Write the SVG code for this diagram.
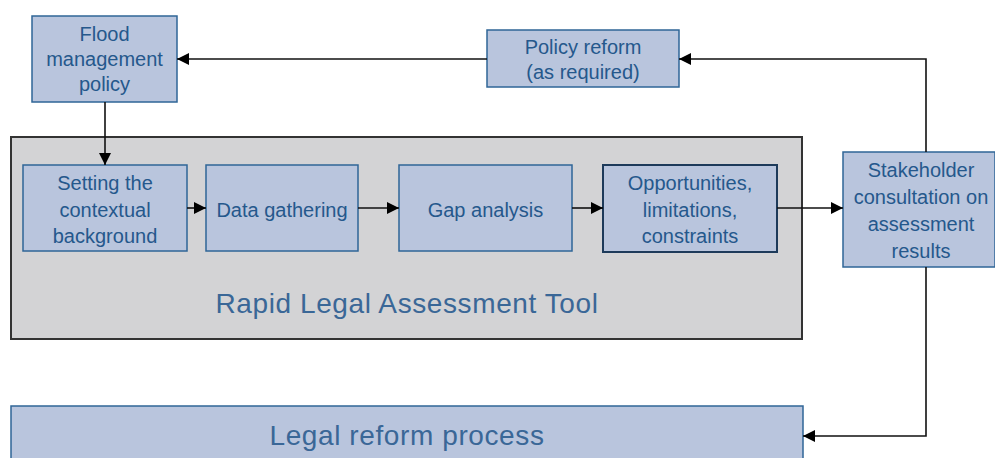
<svg xmlns="http://www.w3.org/2000/svg" width="995" height="458" viewBox="0 0 995 458">
<defs>
<style>
.box{fill:#b9c5dd;stroke:#2f6597;stroke-width:1.5}
.t{font-family:"Liberation Sans",Arial,sans-serif;font-size:20px;fill:#25588c;text-anchor:middle}
.big{font-family:"Liberation Sans",Arial,sans-serif;font-size:28px;fill:#3a6797;text-anchor:middle;letter-spacing:0.6px}
.c{fill:none;stroke:#111;stroke-width:1.6}
</style>
<marker id="ah" viewBox="0 0 10 10" refX="10" refY="5" markerWidth="12" markerHeight="12" markerUnits="userSpaceOnUse" orient="auto">
<path d="M0,0 L10,5 L0,10 z" fill="#000"/>
</marker>
</defs>
<rect width="995" height="458" fill="#fff"/>
<g id="rlat">
<rect x="11" y="137" width="791" height="202" fill="#d3d3d5" stroke="#333" stroke-width="2"/>
<text class="big" x="407" y="313">Rapid Legal Assessment Tool</text>
</g>
<g id="flood">
<rect class="box" x="32" y="16" width="145" height="86"/>
<text class="t" x="104.5" y="41">Flood</text>
<text class="t" x="104.5" y="66">management</text>
<text class="t" x="104.5" y="91">policy</text>
</g>
<g id="policy">
<rect class="box" x="487" y="30" width="192" height="57"/>
<text class="t" x="583" y="54">Policy reform</text>
<text class="t" x="583" y="79">(as required)</text>
</g>
<g id="setting">
<rect class="box" x="23" y="165" width="164" height="86"/>
<text class="t" x="105" y="190">Setting the</text>
<text class="t" x="105" y="217">contextual</text>
<text class="t" x="105" y="243">background</text>
</g>
<g id="data">
<rect class="box" x="206" y="165" width="152" height="86"/>
<text class="t" x="282" y="217">Data gathering</text>
</g>
<g id="gap">
<rect class="box" x="399" y="165" width="173" height="86"/>
<text class="t" x="485.5" y="217">Gap analysis</text>
</g>
<g id="opps">
<rect x="603" y="165" width="174" height="87" fill="#b9c5dd" stroke="#1d3a5a" stroke-width="2"/>
<text class="t" x="690" y="190">Opportunities,</text>
<text class="t" x="690" y="217">limitations,</text>
<text class="t" x="690" y="243">constraints</text>
</g>
<g id="stakeholder">
<rect class="box" x="843" y="152" width="152" height="115"/>
<text class="t" x="921" y="177">Stakeholder</text>
<text class="t" x="921" y="204">consultation on</text>
<text class="t" x="921" y="231">assessment</text>
<text class="t" x="921" y="258">results</text>
</g>
<g id="legal">
<rect class="box" x="11" y="406" width="792" height="60"/>
<text class="big" x="407" y="445">Legal reform process</text>
</g>
<g id="connectors">
<path class="c" d="M105,102 V165" marker-end="url(#ah)"/>
<path class="c" d="M487,59 H177" marker-end="url(#ah)"/>
<path class="c" d="M926,152 V59 H679" marker-end="url(#ah)"/>
<path class="c" d="M187,208 H206" marker-end="url(#ah)"/>
<path class="c" d="M358,208 H399" marker-end="url(#ah)"/>
<path class="c" d="M572,208 H603" marker-end="url(#ah)"/>
<path class="c" d="M777,208 H843" marker-end="url(#ah)"/>
<path class="c" d="M926,267 V436 H803" marker-end="url(#ah)"/>
</g>
</svg>
